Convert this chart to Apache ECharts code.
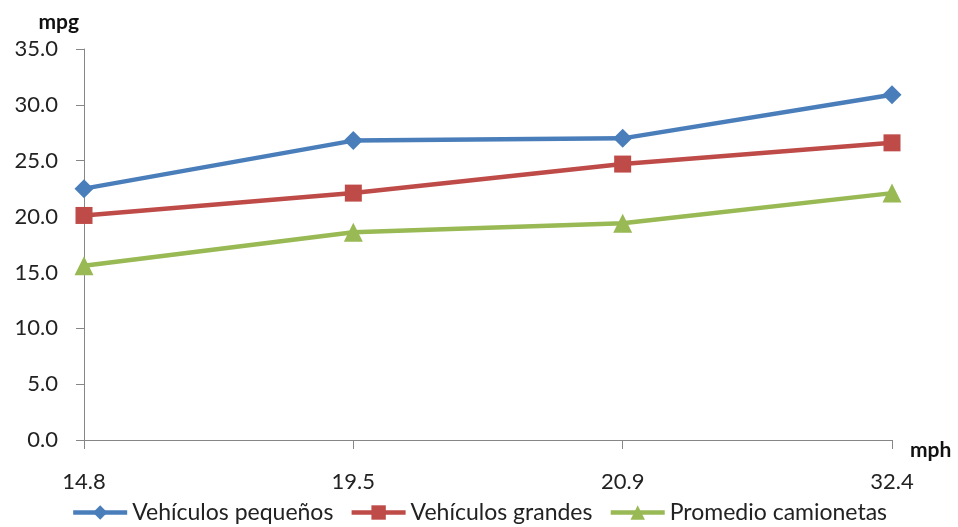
<!DOCTYPE html>
<html>
<head>
<meta charset="utf-8">
<script src="https://cdn.jsdelivr.net/npm/echarts@6/dist/echarts.min.js"></script>
<style>
  html, body { margin: 0; padding: 0; background: #fff; }
  #chart { width: 958px; height: 527px; }
</style>
</head>
<body>
<div id="chart"></div>
<script>
const speeds = ["14.8", "19.5", "20.9", "32.4"];
const smallCars = [22.5, 26.8, 27.0, 30.9];
const largeCars = [20.1, 22.1, 24.7, 26.6];
const pickups = [15.6, 18.6, 19.4, 22.1];

const font = "Lato, 'Open Sans', sans-serif";
const axisGray = "#868686";

const chart = echarts.init(document.getElementById("chart"));

function lineSeries(name, data, color, symbol, size) {
  return {
    name: name,
    type: "line",
    data: data,
    symbol: symbol,
    symbolSize: size,
    lineStyle: { width: 4.5, color: color },
    itemStyle: { color: color },
    animation: false,
  };
}

chart.setOption({
  textStyle: { fontFamily: font },
  grid: { left: 84, right: 66, top: 49, bottom: 87 },
  legend: {
    bottom: -2,
    itemWidth: 54,
    itemHeight: 18,
    itemGap: 16,
    lineStyle: { width: 4.5 },
    textStyle: { fontSize: 23, color: "#222", fontFamily: font },
  },
  xAxis: {
    type: "category",
    data: speeds,
    boundaryGap: false,
    name: "mph",
    nameLocation: "end",
    nameGap: 18,
    nameTextStyle: {
      fontWeight: "bold",
      fontSize: 21,
      color: "#111",
      verticalAlign: "top",
    },
    axisLine: { lineStyle: { color: axisGray, width: 1 } },
    axisTick: { alignWithLabel: true, length: 9, lineStyle: { color: axisGray } },
    axisLabel: { fontSize: 22, color: "#222", margin: 31 },
  },
  yAxis: {
    type: "value",
    min: 0,
    max: 35,
    interval: 5,
    name: "mpg",
    nameLocation: "end",
    nameGap: 16,
    nameTextStyle: {
      fontWeight: "bold",
      fontSize: 21,
      color: "#111",
      align: "right",
      padding: [0, 5, 0, 0],
    },
    axisLine: { show: true, lineStyle: { color: axisGray, width: 1 } },
    axisTick: { show: true, length: 8, lineStyle: { color: axisGray } },
    splitLine: { show: false },
    axisLabel: {
      fontSize: 22,
      color: "#222",
      margin: 26,
      formatter: (v) => v.toFixed(1),
    },
  },
  series: [
    lineSeries("Vehículos pequeños", smallCars, "#4A7EBB", "diamond", 19),
    lineSeries("Vehículos grandes", largeCars, "#BE4B48", "rect", 17),
    lineSeries("Promedio camionetas", pickups, "#98B954", "triangle", 19),
  ],
});
</script>
</body>
</html>
